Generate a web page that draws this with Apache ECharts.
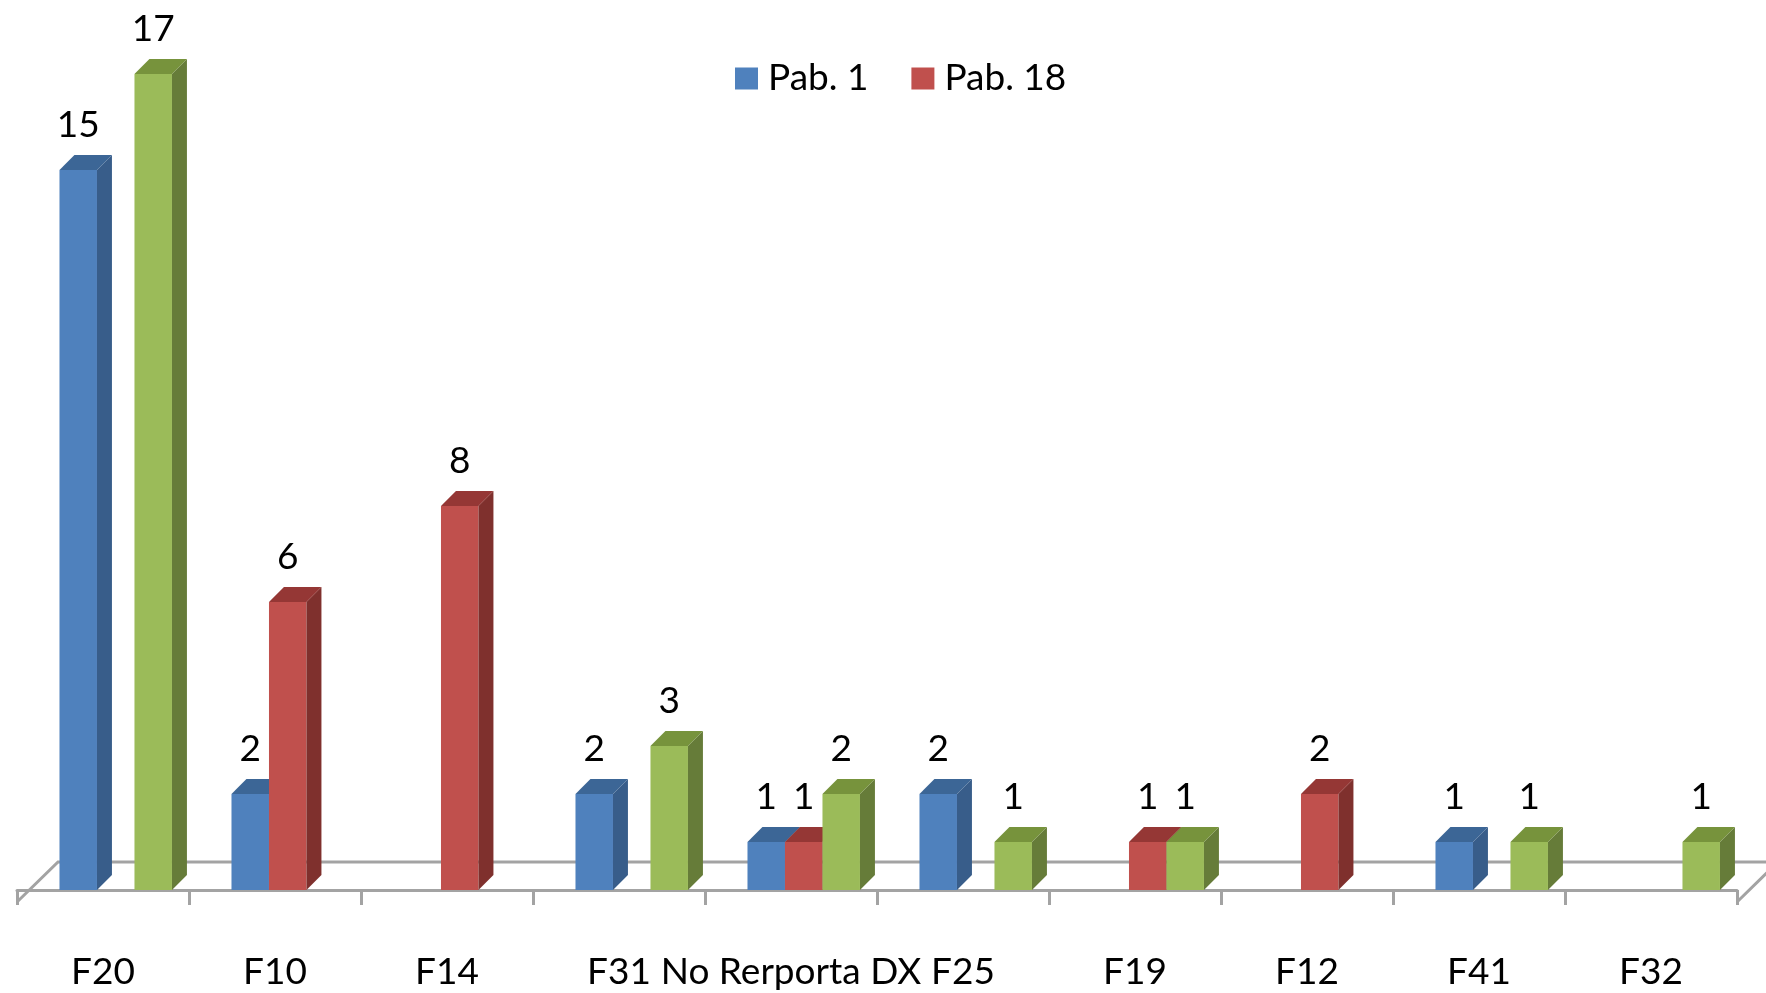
<!DOCTYPE html>
<html>
<head>
<meta charset="utf-8">
<title>Pab. 1 / Pab. 18</title>
<script src="https://cdn.jsdelivr.net/npm/echarts@6/dist/echarts.min.js"></script>
<style>
html, body { margin: 0; padding: 0; background: #fff; }
#main { width: 1766px; height: 993px; }
</style>
</head>
<body>
<div id="main"></div>
<script>
// datos
var categories = ['F20', 'F10', 'F14', 'F31', 'No Rerporta DX', 'F25', 'F19', 'F12', 'F41', 'F32'];
var pab1   = [15, 2, null, 2, 1, 2, null, null, 1, null];
var pab18  = [null, 6, 8, null, 1, null, 1, 2, null, null];
var serie3 = [17, null, null, 3, 2, 1, 1, null, 1, 1];
var seriesNames = ['Pab. 1', 'Pab. 18', 'Serie 3'];

// cara frontal, lateral y superior de cada barra
var shades = [
    { front: '#4F81BD', side: '#385D8A', top: '#3C6696' },
    { front: '#C0504D', side: '#7F302D', top: '#953735' },
    { front: '#9BBB59', side: '#667C39', top: '#77933C' }
];
var FONT = '37px Lato, "Open Sans", sans-serif';

function toPoints(arr) {
    var out = [];
    arr.forEach(function (v, i) {
        if (v != null) out.push([i, v]);
    });
    return out;
}

function barRenderer(k) {
    return function (params, api) {
        var i = api.value(0), v = api.value(1);
        var base = api.coord([i, 0]);
        var top = api.coord([i, v]);
        var W = api.size([1, 0])[0];
        var bw = W * 0.218, d = W * 0.087;
        var x0 = base[0] - W * 0.253 + k * bw;
        var x1 = x0 + bw, yb = base[1], yt = top[1];
        var c = shades[k];
        return {
            type: 'group',
            children: [
                { type: 'polygon', shape: { points: [[x0, yb], [x1, yb], [x1, yt], [x0, yt]] }, style: { fill: c.front } },
                { type: 'polygon', shape: { points: [[x1, yb], [x1 + d, yb - d], [x1 + d, yt - d], [x1, yt]] }, style: { fill: c.side } },
                { type: 'polygon', shape: { points: [[x0, yt], [x0 + d, yt - d], [x1 + d, yt - d], [x1, yt]] }, style: { fill: c.top } },
                {
                    type: 'text', x: (x0 + x1) / 2, y: yt - d - 30,
                    style: { text: String(v), font: FONT, fill: '#000', align: 'center', verticalAlign: 'middle' }
                }
            ]
        };
    };
}

// piso 3D: borde trasero y diagonales (el borde frontal es la linea del eje)
function floorRenderer(params, api) {
    var cs = params.coordSys;
    var yb = api.coord([0, 0])[1];
    var front = yb + 12, back = yb - 28, dx = 41;
    return {
        type: 'polyline',
        shape: { points: [[cs.x, front], [cs.x + dx, back], [cs.x + cs.width + dx, back], [cs.x + cs.width, front]] },
        style: { stroke: '#A3A3A3', lineWidth: 3, fill: null }
    };
}

var chart = echarts.init(document.getElementById('main'));
var series = [{
    name: 'piso',
    type: 'custom',
    renderItem: floorRenderer,
    data: [[0, 0]],
    silent: true,
    z: 1
}];
[pab1, pab18, serie3].forEach(function (arr, k) {
    series.push({
        name: seriesNames[k],
        type: 'custom',
        renderItem: barRenderer(k),
        itemStyle: { color: shades[k].front },
        data: toPoints(arr),
        z: 2 + k
    });
});

var option = {
    backgroundColor: '#fff',
    animation: false,
    textStyle: { fontFamily: 'Lato, "Open Sans", sans-serif' },
    legend: {
        data: ['Pab. 1', 'Pab. 18'],
        left: 730,
        top: 55,
        icon: 'rect',
        itemWidth: 23,
        itemHeight: 22,
        itemGap: 43,
        textStyle: { fontSize: 37, color: '#000', padding: [0, 0, 0, 5] }
    },
    grid: { left: 17, right: 29, top: 26, bottom: 103 },
    xAxis: {
        type: 'category',
        data: categories,
        offset: 12,
        axisLine: { lineStyle: { color: '#A3A3A3', width: 3 } },
        axisTick: { show: true, length: 15, lineStyle: { color: '#A3A3A3', width: 3 } },
        axisLabel: { margin: 52, fontSize: 37, color: '#000', interval: 0 },
        splitLine: { show: false }
    },
    yAxis: {
        type: 'value',
        min: 0,
        max: 18,
        show: false
    },
    series: series
};
chart.setOption(option);
</script>
</body>
</html>
